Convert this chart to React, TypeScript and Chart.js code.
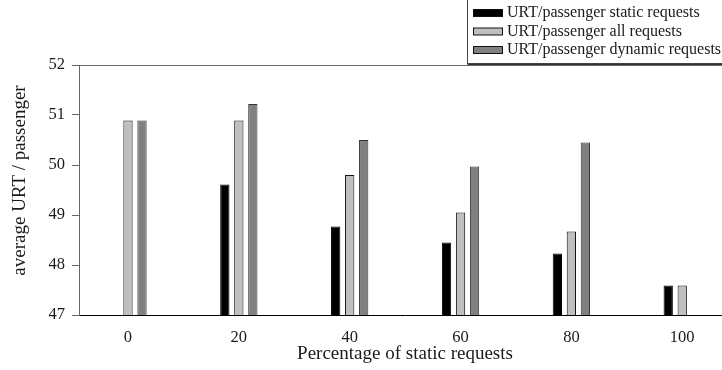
import React, { useEffect, useRef } from 'react';
import { Chart, registerables } from 'chart.js';

Chart.register(...registerables);

const percentages = [0, 20, 40, 60, 80, 100];
const staticUrt: (number | null)[] = [null, 49.61, 48.77, 48.45, 48.23, 47.59];
const allUrt: (number | null)[] = [50.89, 50.89, 49.8, 49.05, 48.67, 47.59];
const dynamicUrt: (number | null)[] = [50.89, 51.22, 50.5, 49.97, 50.45, null];
const xTickLabels = [0, 20, 40, 60, 80, 100];
const yTickLabels = [47, 48, 49, 50, 51, 52];
const seriesLabels = [
  'URT/passenger static requests',
  'URT/passenger all requests',
  'URT/passenger dynamic requests',
];
const seriesFill = ['#000000', '#bfbfbf', '#808080'];
const seriesBorder = ['#000000', '#111111', '#333333'];

const FONT = "'Liberation Serif', 'Times New Roman', serif";
const TEXT = '#1a1a1a';

const boxLegend = {
  id: 'boxLegend',
  afterDraw(chart: any) {
    const ctx = chart.ctx as CanvasRenderingContext2D;
    const area = chart.chartArea;
    ctx.save();
    // plot frame top line
    ctx.strokeStyle = '#666';
    ctx.lineWidth = 1;
    ctx.beginPath();
    ctx.moveTo(area.left, Math.round(area.top) + 0.5);
    ctx.lineTo(area.right, Math.round(area.top) + 0.5);
    ctx.stroke();

    // legend box
    const left = 467.5;
    const bottom = 63.5;
    ctx.fillStyle = '#ffffff';
    ctx.fillRect(left, -2, chart.width, bottom + 2);
    ctx.strokeStyle = '#444';
    ctx.lineWidth = 1;
    ctx.strokeRect(left, -2, chart.width, bottom + 2);
    ctx.strokeStyle = '#333';
    ctx.beginPath();
    ctx.moveTo(left, bottom + 1);
    ctx.lineTo(chart.width, bottom + 1);
    ctx.stroke();

    const rows = [13, 31.5, 50];
    chart.data.datasets.forEach((ds: any, i: number) => {
      const cy = rows[i];
      ctx.fillStyle = ds.backgroundColor;
      ctx.fillRect(473, cy - 3.5, 30, 7);
      ctx.strokeStyle = '#111';
      ctx.strokeRect(473.5, cy - 3.5, 29, 7);
      ctx.fillStyle = TEXT;
      ctx.font = `16px ${FONT}`;
      ctx.textBaseline = 'middle';
      ctx.textAlign = 'left';
      ctx.fillText(ds.label, 507, cy);
    });
    ctx.restore();
  },
};

export default function App() {
  const ref = useRef<HTMLCanvasElement | null>(null);

  useEffect(() => {
    if (!ref.current) return;
    const seriesValues = [staticUrt, allUrt, dynamicUrt];
    const chart = new Chart(ref.current, {
      type: 'bar',
      data: {
        datasets: seriesValues.map((vals, i) => ({
          label: seriesLabels[i],
          data: percentages.map((p, j) => ({ x: p, y: vals[j] })) as any,
          backgroundColor: seriesFill[i],
          borderColor: seriesBorder[i],
          borderWidth: 1,
          categoryPercentage: 0.379,
          barPercentage: 0.664,
        })),
      },
      options: {
        animation: false,
        responsive: false,
        devicePixelRatio: 1,
        layout: { padding: { top: 65, right: 9, left: 0, bottom: 0 } },
        plugins: {
          legend: { display: false },
          tooltip: { enabled: false },
        },
        scales: {
          x: {
            type: 'linear',
            min: -8.84,
            max: 108.8,
            offset: false,
            afterBuildTicks: (s: any) => {
              s.ticks = xTickLabels.map((v) => ({ value: v }));
            },
            afterFit: (s: any) => {
              s.height = 55;
            },
            ticks: {
              font: { family: FONT, size: 16.5 },
              color: TEXT,
              padding: 13,
              maxRotation: 0,
              autoSkip: false,
            },
            grid: { display: true, drawOnChartArea: false, drawTicks: false },
            border: { display: true, color: '#000', width: 1 },
            title: {
              display: true,
              text: 'Percentage of static requests',
              font: { family: FONT, size: 19 },
              color: TEXT,
              padding: { top: 0, bottom: 5 },
            },
          },
          y: {
            type: 'linear',
            min: 47,
            max: 52,
            afterBuildTicks: (s: any) => {
              s.ticks = yTickLabels.map((v) => ({ value: v }));
            },
            afterFit: (s: any) => {
              s.width = 79;
            },
            ticks: {
              font: { family: FONT, size: 16.5 },
              color: TEXT,
              padding: 7,
            },
            grid: {
              display: true,
              drawOnChartArea: false,
              drawTicks: true,
              tickLength: 7,
              color: '#666',
            },
            border: { display: true, color: '#666', width: 1 },
            title: {
              display: true,
              text: '    average URT / passenger',
              font: { family: FONT, size: 19 },
              color: TEXT,
              padding: { top: 9, bottom: 0 },
            },
          },
        },
      } as any,
      plugins: [boxLegend],
    });
    return () => chart.destroy();
  }, []);

  return (
    <div
      style={{
        position: 'fixed',
        left: 0,
        top: 0,
        width: 722,
        height: 370,
        overflow: 'hidden',
        background: '#fff',
      }}
    >
      <canvas ref={ref} width={740} height={370} style={{ display: 'block', width: 740, height: 370 }} />
    </div>
  );
}
